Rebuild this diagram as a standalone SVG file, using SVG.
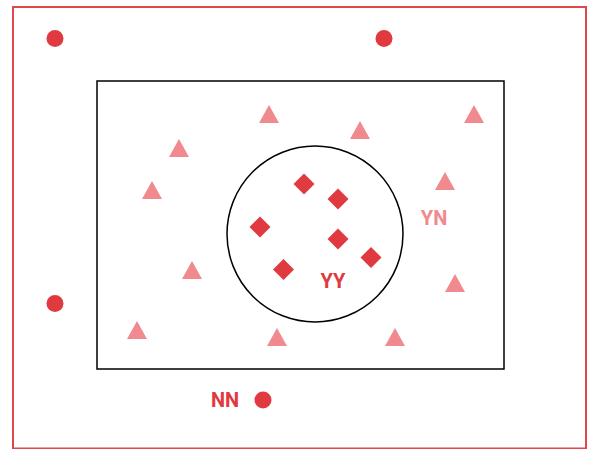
<svg xmlns="http://www.w3.org/2000/svg" width="593" height="449" viewBox="0 0 593 449">
<style>
.dot{fill:#e03a40}
.tri{fill:#f08a8e}
.dia{fill:#e03a40}
.lbl{font-family:Roboto,"Liberation Sans",sans-serif;font-weight:bold;font-size:20px}
</style>
<defs>
<polygon id="t" points="0,-9 10,9 -10,9"/>
<polygon id="d" points="0,-10.5 10.5,0 0,10.5 -10.5,0"/>
</defs>
<rect width="593" height="449" fill="#fff"/>
<g id="outer"><rect x="13" y="7" width="573" height="441.5" fill="none" stroke="#e0474c" stroke-width="2"/></g>
<g id="inner"><rect x="97" y="81" width="407" height="288" fill="none" stroke="#000" stroke-width="1.5"/></g>
<g id="circle"><circle cx="315" cy="234" r="88" fill="none" stroke="#000" stroke-width="1.5"/></g>
<g id="connectors"></g>
<g id="dots">
<circle class="dot" cx="55" cy="38.5" r="8.5"/>
<circle class="dot" cx="384" cy="38.5" r="8.5"/>
<circle class="dot" cx="55" cy="303.5" r="8.5"/>
<circle class="dot" cx="263" cy="400" r="8.5"/>
</g>
<g id="triangles" class="tri">
<use href="#t" x="269" y="114"/>
<use href="#t" x="360" y="130"/>
<use href="#t" x="179" y="148"/>
<use href="#t" x="152" y="190"/>
<use href="#t" x="474" y="114"/>
<use href="#t" x="445" y="181"/>
<use href="#t" x="192" y="270"/>
<use href="#t" x="455" y="283"/>
<use href="#t" x="137" y="330"/>
<use href="#t" x="277" y="337"/>
<use href="#t" x="395" y="337"/>
</g>
<g id="diamonds" class="dia">
<use href="#d" x="304" y="184"/>
<use href="#d" x="338" y="199"/>
<use href="#d" x="260" y="227"/>
<use href="#d" x="338" y="239"/>
<use href="#d" x="371" y="257.5"/>
<use href="#d" x="283.5" y="269.5"/>
</g>
<g id="labels">
<text class="lbl" x="333" y="288" text-anchor="middle" fill="#e03a40">YY</text>
<text class="lbl" x="434" y="225" text-anchor="middle" fill="#f08a8e">YN</text>
<text class="lbl" x="225" y="407" text-anchor="middle" fill="#e03a40">NN</text>
</g>
</svg>
